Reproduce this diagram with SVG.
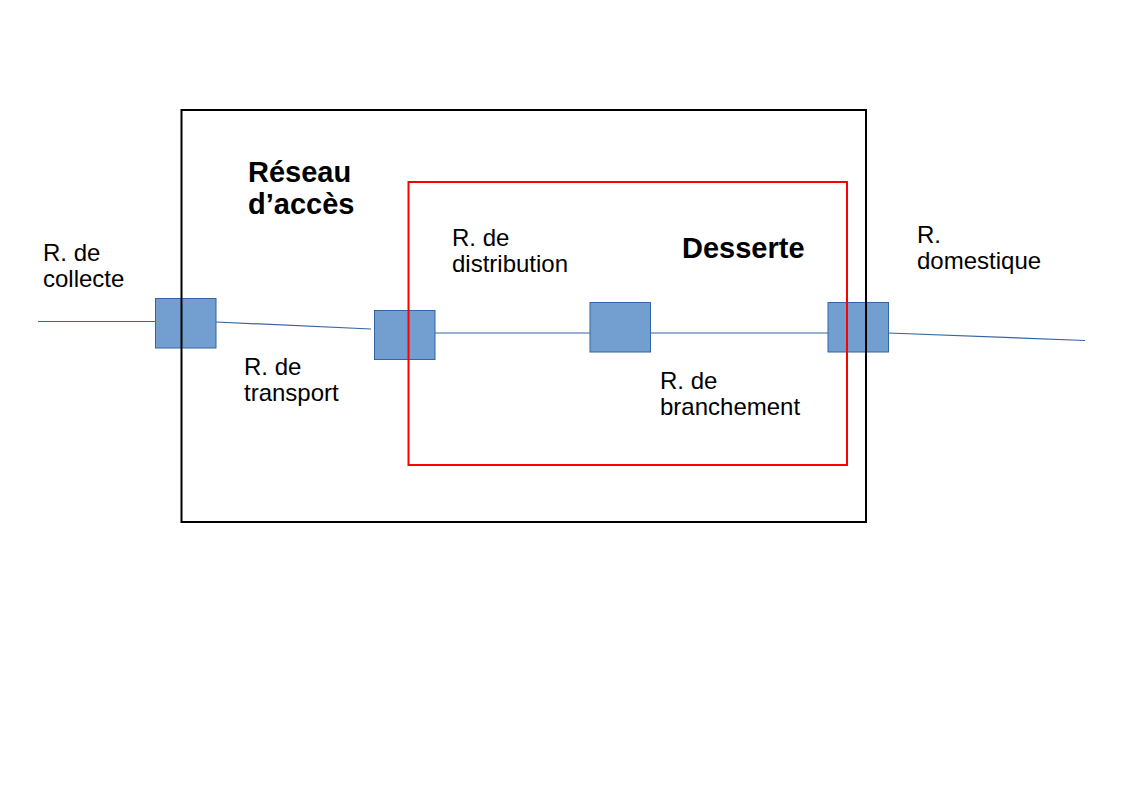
<svg xmlns="http://www.w3.org/2000/svg" width="1123" height="794" viewBox="0 0 1123 794">
<style>
.t{font-family:"Liberation Sans",Arial,sans-serif;font-size:24px;fill:#000}
.b{font-family:"Liberation Sans",Arial,sans-serif;font-size:29px;font-weight:bold;fill:#000}
.n{fill:#729fcf;stroke:#3465a4;stroke-width:1}
.c{stroke:#3465a4;stroke-width:1.2;fill:none}
</style>
<rect width="1123" height="794" fill="#fff"/>
<g id="connectors">
<line class="c" x1="38" y1="321.5" x2="155" y2="321.5"/>
<line class="c" x1="216" y1="322" x2="371" y2="329"/>
<line class="c" x1="435" y1="333" x2="590" y2="333"/>
<line class="c" x1="650" y1="333" x2="828" y2="333"/>
<line class="c" x1="888" y1="333" x2="1085" y2="340.5"/>
</g>
<g id="node1"><rect class="n" x="155.5" y="298.5" width="60.5" height="49.5"/></g>
<g id="node2"><rect class="n" x="374.5" y="310.5" width="60.5" height="49"/></g>
<g id="node3"><rect class="n" x="590" y="302.5" width="60.5" height="49.5"/></g>
<g id="node4"><rect class="n" x="828" y="302.5" width="60.5" height="49.5"/></g>
<g id="reseau-acces"><rect x="181.5" y="110" width="684.5" height="412" fill="none" stroke="#000" stroke-width="2"/></g>
<g id="desserte"><rect x="408.5" y="182" width="438.5" height="283" fill="none" stroke="#ff0000" stroke-width="2"/></g>
<g id="labels">
<text class="b" x="248" y="182">Réseau</text>
<text class="b" x="248" y="214">d’accès</text>
<text class="b" x="682" y="258">Desserte</text>
<text class="t" x="43" y="261">R. de</text>
<text class="t" x="43" y="287">collecte</text>
<text class="t" x="452" y="246">R. de</text>
<text class="t" x="452" y="272">distribution</text>
<text class="t" x="917" y="243">R.</text>
<text class="t" x="917" y="269">domestique</text>
<text class="t" x="244" y="375">R. de</text>
<text class="t" x="244" y="401">transport</text>
<text class="t" x="660" y="389">R. de</text>
<text class="t" x="660" y="415">branchement</text>
</g>
</svg>
